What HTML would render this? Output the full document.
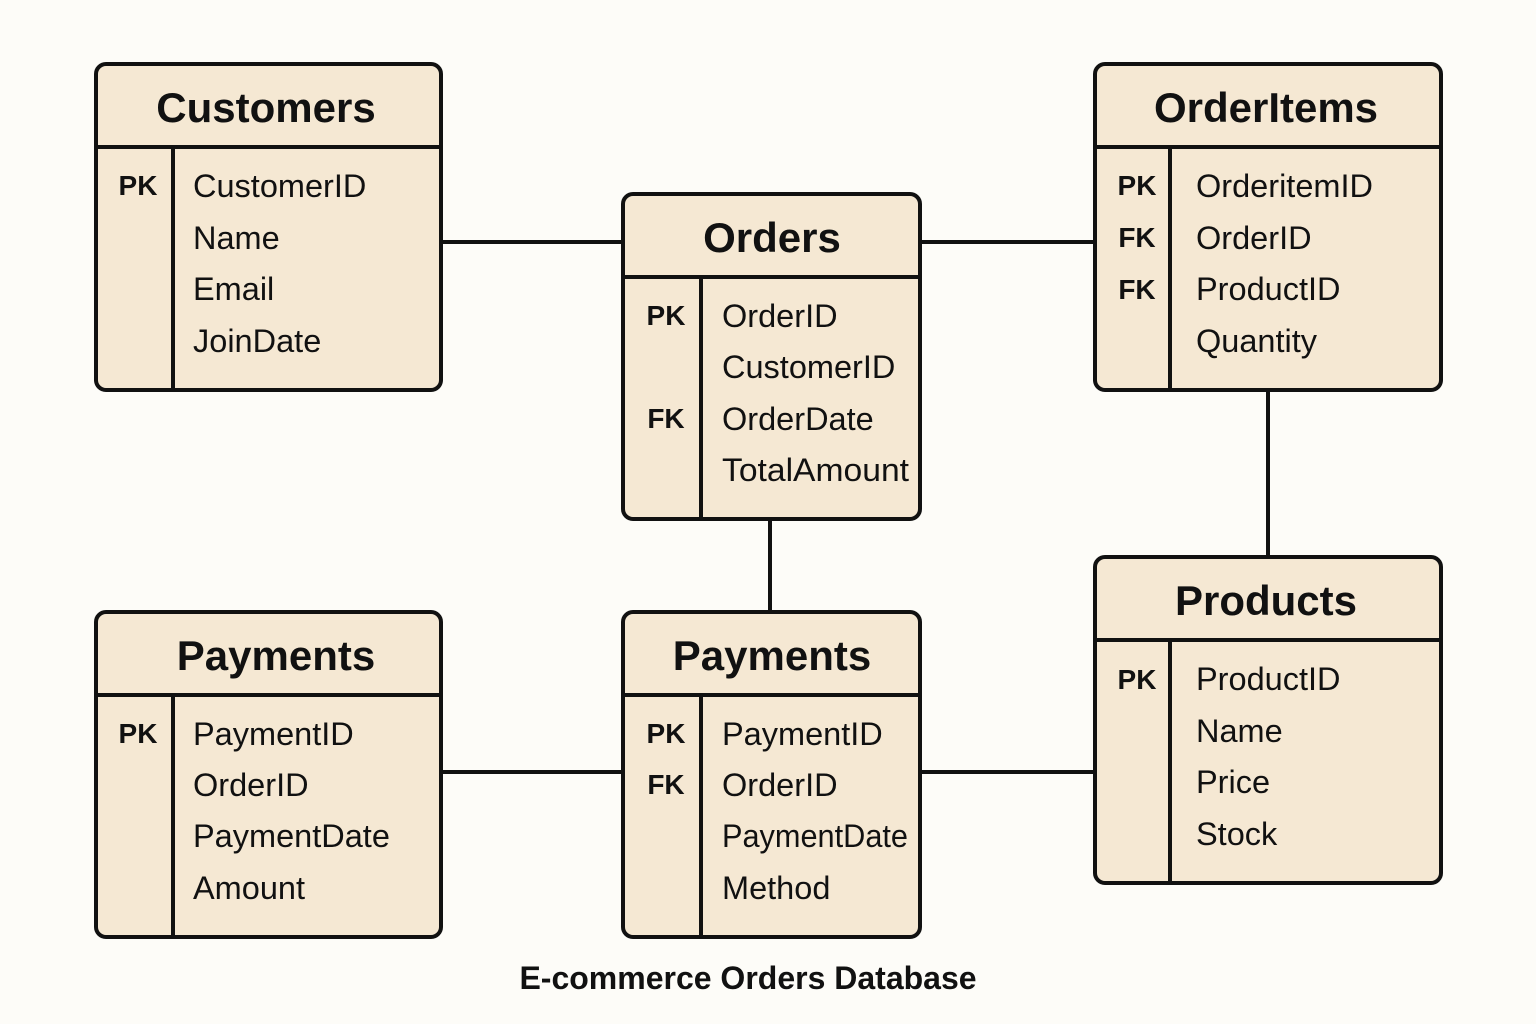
<!DOCTYPE html>
<html><head><style>
html,body{margin:0;padding:0;background:#fdfcf8;}
svg{display:block;font-family:"Liberation Sans",sans-serif;}
.t{font-size:42px;font-weight:bold;text-anchor:middle;fill:#111;}
.k{font-size:28px;font-weight:bold;text-anchor:middle;fill:#111;}
.f{font-size:32.5px;fill:#111;}
.b{fill:#f5e8d3;stroke:#111;stroke-width:4;}
.l{stroke:#111;stroke-width:4;fill:none;}
</style></head><body>
<svg width="1536" height="1024" viewBox="0 0 1536 1024">
<g class="l">
<line x1="441" y1="242" x2="623" y2="242"/>
<line x1="920" y1="242" x2="1095" y2="242"/>
<line x1="770" y1="519" x2="770" y2="612"/>
<line x1="1268" y1="390" x2="1268" y2="557"/>
<line x1="441" y1="772" x2="623" y2="772"/>
<line x1="920" y1="772" x2="1095" y2="772"/>
</g>
<!-- Customers -->
<rect class="b" x="96" y="64" width="345" height="326" rx="10"/>
<line class="l" x1="96" y1="147" x2="441" y2="147"/><line class="l" x1="173" y1="147" x2="173" y2="390"/>
<text class="t" x="266" y="122">Customers</text>
<text class="k" x="138" y="195">PK</text>
<text class="f" x="193" y="197">CustomerID</text><text class="f" x="193" y="249">Name</text><text class="f" x="193" y="300">Email</text><text class="f" x="193" y="352">JoinDate</text>
<!-- Orders -->
<rect class="b" x="623" y="194" width="297" height="325" rx="10"/>
<line class="l" x1="623" y1="277" x2="920" y2="277"/><line class="l" x1="701" y1="277" x2="701" y2="519"/>
<text class="t" x="772" y="252">Orders</text>
<text class="k" x="666" y="325">PK</text><text class="k" x="666" y="428">FK</text>
<text class="f" x="722" y="327">OrderID</text><text class="f" x="722" y="378">CustomerID</text><text class="f" x="722" y="430">OrderDate</text><text class="f" x="722" y="481" textLength="187" lengthAdjust="spacingAndGlyphs">TotalAmount</text>
<!-- OrderItems -->
<rect class="b" x="1095" y="64" width="346" height="326" rx="10"/>
<line class="l" x1="1095" y1="147" x2="1441" y2="147"/><line class="l" x1="1170" y1="147" x2="1170" y2="390"/>
<text class="t" x="1266" y="122">OrderItems</text>
<text class="k" x="1137" y="195">PK</text><text class="k" x="1137" y="247">FK</text><text class="k" x="1137" y="299">FK</text>
<text class="f" x="1196" y="197">OrderitemID</text><text class="f" x="1196" y="249">OrderID</text><text class="f" x="1196" y="300">ProductID</text><text class="f" x="1196" y="352">Quantity</text>
<!-- Products -->
<rect class="b" x="1095" y="557" width="346" height="326" rx="10"/>
<line class="l" x1="1095" y1="640" x2="1441" y2="640"/><line class="l" x1="1170" y1="640" x2="1170" y2="883"/>
<text class="t" x="1266" y="615">Products</text>
<text class="k" x="1137" y="689">PK</text>
<text class="f" x="1196" y="690">ProductID</text><text class="f" x="1196" y="742">Name</text><text class="f" x="1196" y="793">Price</text><text class="f" x="1196" y="845">Stock</text>
<!-- Payments L -->
<rect class="b" x="96" y="612" width="345" height="325" rx="10"/>
<line class="l" x1="96" y1="695" x2="441" y2="695"/><line class="l" x1="173" y1="695" x2="173" y2="937"/>
<text class="t" x="276" y="670">Payments</text>
<text class="k" x="138" y="743">PK</text>
<text class="f" x="193" y="745">PaymentID</text><text class="f" x="193" y="796">OrderID</text><text class="f" x="193" y="847">PaymentDate</text><text class="f" x="193" y="899">Amount</text>
<!-- Payments M -->
<rect class="b" x="623" y="612" width="297" height="325" rx="10"/>
<line class="l" x1="623" y1="695" x2="920" y2="695"/><line class="l" x1="701" y1="695" x2="701" y2="937"/>
<text class="t" x="772" y="670">Payments</text>
<text class="k" x="666" y="743">PK</text><text class="k" x="666" y="794">FK</text>
<text class="f" x="722" y="745">PaymentID</text><text class="f" x="722" y="796">OrderID</text><text class="f" x="722" y="847" textLength="186" lengthAdjust="spacingAndGlyphs">PaymentDate</text><text class="f" x="722" y="899">Method</text>
<text x="748" y="989" style="font-size:32px;font-weight:bold;text-anchor:middle;fill:#111">E-commerce Orders Database</text>
</svg>
</body></html>
